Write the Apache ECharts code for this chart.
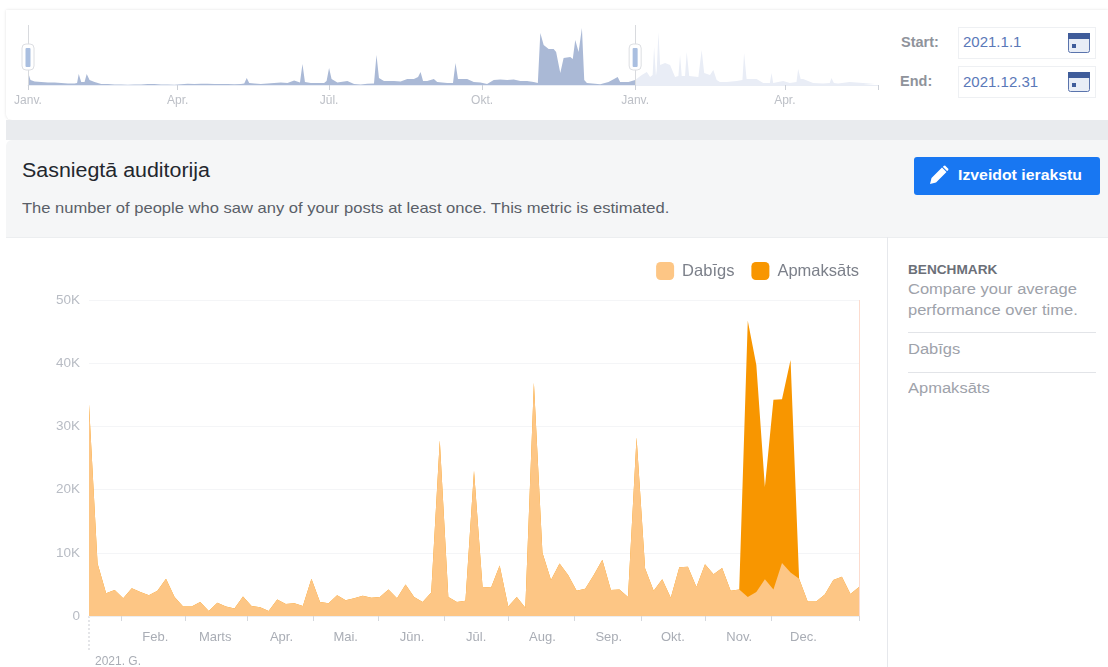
<!DOCTYPE html>
<html>
<head>
<meta charset="utf-8">
<title>Sasniegtā auditorija</title>
<script src="https://cdn.jsdelivr.net/npm/echarts@6/dist/echarts.min.js"></script>
<style>
html, body { margin: 0; padding: 0; background: #fff; }
#page { position: relative; width: 1108px; height: 667px; overflow: hidden; background: #fff;
    font-family: "Liberation Sans", Arial, sans-serif; filter: blur(0.55px); }
#page div { position: absolute; white-space: nowrap; }
#topPanel { left: 6px; top: 10px; width: 1102px; height: 110px; background: #fff; border-radius: 0 0 0 6px;
    box-shadow: 0 0 3px rgba(0,0,0,.12); }
#band { left: 6px; top: 120px; width: 1102px; height: 20px; background: #e9ebee; }
#header { left: 6px; top: 140px; width: 1102px; height: 97px; background: #f5f6f7; border-bottom: 1px solid #eceef0; border-radius: 6px 0 0 0; }
#overview { left: 0; top: 10px; width: 900px; height: 110px; }
#main { left: 0; top: 237px; width: 887px; height: 430px; }
#divider { left: 887px; top: 237px; width: 1px; height: 430px; background: #e6e8ec; }
.lbl { color: #8f939b; font-size: 14.5px; font-weight: bold; }
.box { left: 958px; width: 136px; height: 30px; border: 1px solid #eef0f3; background: #fff; }
.val { left: 963px; color: #5a78b8; font-size: 15px; }
#title { left: 22px; top: 159px; font-size: 20px; color: #23272e; transform: scaleX(1.07); transform-origin: left; }
#sub { left: 22px; top: 200px; font-size: 14.4px; color: #5a5f68; transform: scaleX(1.15); transform-origin: left; }
#btn { left: 914px; top: 157px; width: 186px; height: 38px; background: #1877f2; border-radius: 3px; }
#btnText { left: 958px; top: 167px; color: #fff; font-size: 14px; font-weight: bold; transform: scaleX(1.13); transform-origin: left; }
.side { left: 908px; color: #9ea2aa; font-size: 15.5px; transform: scaleX(1.065); transform-origin: left; }
.rule { left: 908px; width: 188px; height: 1px; background: #e2e4e8; }
</style>
</head>
<body>
<div id="page">
    <div id="topPanel"></div>
    <div id="band"></div>
    <div id="header"></div>
    <div id="overview"></div>

    <div class="lbl" style="left:901px;top:34px">Start:</div>
    <div class="box" style="top:27px"></div>
    <div class="val" style="top:33px">2021.1.1</div>
    <svg style="position:absolute;left:1068px;top:33px;width:22px;height:20px" viewBox="0 0 22 20">
        <rect x="0.5" y="0.5" width="21" height="19" rx="2" fill="#e8edf6" stroke="#5a74ad"/>
        <rect x="0" y="0" width="22" height="6" fill="#3f5c9a"/>
        <rect x="4" y="11" width="4" height="4" fill="#3f5c9a"/>
    </svg>
    <div class="lbl" style="left:900px;top:73px">End:</div>
    <div class="box" style="top:66px"></div>
    <div class="val" style="top:73px">2021.12.31</div>
    <svg style="position:absolute;left:1068px;top:72px;width:22px;height:20px" viewBox="0 0 22 20">
        <rect x="0.5" y="0.5" width="21" height="19" rx="2" fill="#e8edf6" stroke="#5a74ad"/>
        <rect x="0" y="0" width="22" height="6" fill="#3f5c9a"/>
        <rect x="4" y="11" width="4" height="4" fill="#3f5c9a"/>
    </svg>

    <div id="title">Sasniegtā auditorija</div>
    <div id="sub">The number of people who saw any of your posts at least once. This metric is estimated.</div>
    <div id="btn"></div>
    <svg style="position:absolute;left:929px;top:165px;width:20px;height:20px" viewBox="0 0 20 20">
        <path d="M1 19 L2.5 13 L13 2.5 L17.5 7 L7 17.5 Z M14.5 1 L16 0.5 L19.5 4 L19 5.5 L18 6 L14 2 Z" fill="#fff"/>
    </svg>
    <div id="btnText">Izveidot ierakstu</div>

    <div id="main"></div>
    <div id="divider"></div>

    <div class="side" style="top:262px;color:#6b6f78;font-size:12.8px;font-weight:bold">BENCHMARK</div>
    <div class="side" style="top:280px">Compare your average</div>
    <div class="side" style="top:301px">performance over time.</div>
    <div class="rule" style="top:332px"></div>
    <div class="side" style="top:340px">Dabīgs</div>
    <div class="rule" style="top:372px"></div>
    <div class="side" style="top:379px">Apmaksāts</div>
</div>

<script>
'use strict';

// main chart, one point every 4 days, day of year counted from 1 January
var mainDays = [
    0, 4, 8, 12, 16, 20, 24, 28, 32, 36, 40, 44, 48, 52, 56, 60, 64, 68, 72, 76,
    80, 84, 88, 92, 96, 100, 104, 108, 112, 116, 120, 124, 128, 132, 136, 140, 144, 148, 152, 156,
    160, 164, 168, 172, 176, 180, 184, 188, 192, 196, 200, 204, 208, 212, 216, 220, 224, 228, 232, 236,
    240, 244, 248, 252, 256, 260, 264, 268, 272, 276, 280, 284, 288, 292, 296, 300, 304, 308, 312, 316,
    320, 324, 328, 332, 336, 340, 344, 348, 352, 356, 360
];
var organicReach = [
    33500, 8300, 3600, 4100, 2800, 4400, 3800, 3300, 4000, 5900, 3000, 1500, 1500, 2200, 800, 2100, 1500, 1200, 3100, 1600,
    1400, 800, 2600, 1900, 2000, 1600, 5900, 2200, 2000, 3300, 2500, 2800, 3200, 2900, 3000, 4200, 2800, 5000, 3000, 2200,
    3700, 27800, 3000, 2200, 2400, 23000, 4600, 4500, 8000, 1500, 3000, 1300, 36900, 10000, 5700, 8300, 6500, 4000, 4300, 6500,
    8900, 4100, 4200, 3000, 28300, 7500, 4000, 5800, 2900, 7700, 7800, 4600, 8200, 6600, 7600, 4000, 4200, 3000, 3800, 5800,
    4200, 8400, 6900, 5900, 2300, 2300, 3400, 5700, 6200, 3500, 4600
];
var paidReach = [
    0, 0, 0, 0, 0, 0, 0, 0, 0, 0, 0, 0, 0, 0, 0, 0, 0, 0, 0, 0,
    0, 0, 0, 0, 0, 0, 0, 0, 0, 0, 0, 0, 0, 0, 0, 0, 0, 0, 0, 0,
    0, 0, 0, 0, 0, 0, 0, 0, 0, 0, 0, 0, 0, 0, 0, 0, 0, 0, 0, 0,
    0, 0, 0, 0, 0, 0, 0, 0, 0, 0, 0, 0, 0, 0, 0, 0, 0, 43700, 35900, 14600,
    30000, 25900, 33600, 0, 0, 0, 0, 0, 0, 0, 0
];
var monthDays = [31, 59, 90, 120, 151, 181, 212, 243, 273, 304, 334];
var monthNames = ['Feb.', 'Marts', 'Apr.', 'Mai.', 'Jūn.', 'Jūl.', 'Aug.', 'Sep.', 'Okt.', 'Nov.', 'Dec.'];
var midMonthDays = [15, 45, 74, 105, 135, 166, 196, 227, 258, 288, 319, 360];

// overview strip above the chart, heights only relative
var overviewDays = [
    0, 1.5, 4, 8, 12, 16, 20, 24, 28, 29.5, 30.5, 32, 34, 35.3, 37, 40, 44, 48, 52, 56,
    60, 64, 68, 72, 76, 80, 84, 88, 92, 96, 100, 104, 108, 112, 116, 120, 124, 128, 130, 131.5,
    133, 136, 140, 144, 148, 152, 156, 160, 163.5, 165, 166.5, 170, 174, 178, 179.5, 181, 182.5, 186, 192, 196,
    200, 204, 208, 209.5, 211, 214, 220, 224, 228, 232, 234.5, 236, 237.5, 240, 244, 246, 252, 255.5, 257, 258.5,
    264, 268, 272, 276, 280, 284, 288, 292, 296, 300, 304,
    306.5, 308, 310, 313, 316, 317.5, 320, 322, 326, 327.5, 329, 331, 333, 334.4, 336, 344, 349, 354.5, 356, 361, 365
];
var overviewReach = [
    13, 5, 3.5, 3, 2.5, 2.5, 2, 1.5, 1.5, 2, 11, 3, 3, 11, 5, 3, 1, 1, 0.6, 0.6,
    0.3, 0.6, 0.5, 1, 1, 0.5, 0.5, 0.3, 0.8, 1.2, 1, 1.2, 1.2, 1, 1, 1, 0.8, 1, 1.5, 7,
    2, 1.5, 1, 1.5, 2, 2.5, 2, 4.5, 2.5, 21, 3, 2, 2, 2, 4, 17, 6, 2.5, 4, 1,
    0.6, 1.2, 1.5, 30, 7, 4, 4, 3.5, 6, 6, 8, 13, 4, 4, 6, 3, 2, 2, 22, 6,
    6, 3, 2.5, 1, 5, 5.5, 5, 5.5, 4, 4, 3,
    2, 52, 40, 36, 36, 33, 12, 27, 28, 26, 45, 33, 57, 5, 2, 0.7, 3, 8, 3, 3, 5
];
var futureDays = [
    365, 369, 372, 374, 375.5, 376.4, 377.5, 378, 379, 380, 381, 383, 386, 389, 391, 392, 393, 395, 396, 397.5,
    403, 405, 406.5, 410, 412, 414, 416, 420, 426, 429.5, 430.5, 432, 438, 442, 446, 447, 448, 454, 458, 462,
    463, 464.5, 466, 472, 478, 482, 483, 484.5, 487, 494, 502, 509
];
var futureReach = [
    5, 10, 13, 8, 10, 38, 9, 15, 53, 20, 18, 22, 20, 8, 9, 30, 9, 9, 33, 9,
    8, 35, 12, 10, 15, 5, 3, 3, 4, 5, 32, 6, 6, 2, 2, 12, 2, 4, 2, 3,
    16, 6, 6, 2, 1.5, 2, 7, 2, 1.5, 3, 2, 1
];
var overviewTickDays = [0, 90, 181, 273, 365, 455, 511];
var overviewLabelDays = [0, 90, 181, 273, 365, 455];
var overviewLabels = ['Janv.', 'Apr.', 'Jūl.', 'Okt.', 'Janv.', 'Apr.'];

function zip(xs, ys) {
    return xs.map(function(x, i) { return [x, ys[i]]; });
}

// paid sits on top of organic; drawn first so the organic area covers its lower part
var paidTop = organicReach.map(function(v, i) { return v + paidReach[i]; });

var mainChart = echarts.init(document.getElementById('main'));
mainChart.setOption({
    animation: false,
    textStyle: { fontFamily: '"Liberation Sans", Arial, sans-serif' },
    grid: { left: 89, right: 28, top: 63, bottom: 51 },
    legend: {
        right: 23,
        top: 20,
        itemWidth: 18,
        itemHeight: 18,
        itemGap: 17,
        icon: 'roundRect',
        textStyle: { color: '#7c808a', fontSize: 16.5, padding: [0, 0, 0, 3] },
        data: ['Dabīgs', 'Apmaksāts']
    },
    xAxis: {
        type: 'value',
        min: 0,
        max: 360,
        splitLine: { show: false },
        axisLine: { show: true, lineStyle: { color: '#eceef1' } },
        axisTick: { show: true, length: 5, lineStyle: { color: '#d5d8dd' }, customValues: midMonthDays },
        axisLabel: {
            color: '#a9adb5',
            fontSize: 13,
            margin: 15,
            customValues: monthDays,
            formatter: function(v) { return monthNames[monthDays.indexOf(v)]; }
        }
    },
    yAxis: {
        type: 'value',
        min: 0,
        max: 50000,
        interval: 10000,
        axisLine: { show: false },
        axisTick: { show: false },
        splitLine: { lineStyle: { color: '#f4f5f7' } },
        axisLabel: {
            color: '#b8bcc4',
            fontSize: 13.5,
            margin: 9,
            formatter: function(v) { return v === 0 ? '0' : (v / 1000) + 'K'; }
        }
    },
    series: [
        {
            name: 'Apmaksāts',
            type: 'line',
            showSymbol: false,
            color: '#f89600',
            lineStyle: { width: 0 },
            areaStyle: { color: '#f89600', opacity: 1 },
            markLine: {
                silent: true,
                symbol: 'none',
                label: { show: false },
                lineStyle: { color: '#fcdccf', type: 'solid', width: 1 },
                data: [{ xAxis: 360 }]
            },
            data: zip(mainDays, paidTop)
        },
        {
            name: 'Dabīgs',
            type: 'line',
            showSymbol: false,
            color: '#fdc685',
            lineStyle: { width: 0 },
            areaStyle: { color: '#fdc685', opacity: 1 },
            data: zip(mainDays, organicReach)
        }
    ]
});

var startX = mainChart.convertToPixel({ xAxisIndex: 0 }, 0);
var zeroY = mainChart.convertToPixel({ yAxisIndex: 0 }, 0);
mainChart.setOption({
    graphic: [
        {
            type: 'line',
            shape: { x1: startX, y1: zeroY, x2: startX, y2: zeroY + 34 },
            style: { stroke: '#c9ccd2', lineDash: [2, 2], lineWidth: 1 }
        },
        {
            type: 'text',
            x: startX + 6,
            y: zeroY + 40,
            style: { text: '2021. G.', fill: '#a9adb5', fontSize: 12, fontFamily: '"Liberation Sans", Arial, sans-serif' }
        }
    ]
});

var overviewChart = echarts.init(document.getElementById('overview'));
overviewChart.setOption({
    animation: false,
    textStyle: { fontFamily: '"Liberation Sans", Arial, sans-serif' },
    grid: { left: 28, right: 22, top: 15, bottom: 35 },
    xAxis: {
        type: 'value',
        min: 0,
        max: 511,
        splitLine: { show: false },
        axisLine: { show: true, lineStyle: { color: '#e9edf5' } },
        axisTick: { show: true, length: 5, lineStyle: { color: '#ccd0d7' }, customValues: overviewTickDays },
        axisLabel: {
            color: '#bdc0c7',
            fontSize: 12,
            margin: 10,
            customValues: overviewLabelDays,
            formatter: function(v) { return overviewLabels[overviewLabelDays.indexOf(v)]; }
        }
    },
    yAxis: { type: 'value', min: 0, max: 60, show: false },
    series: [
        {
            type: 'line',
            showSymbol: false,
            lineStyle: { width: 0 },
            areaStyle: { color: '#aab9d6', opacity: 1 },
            markLine: {
                silent: true,
                symbol: 'none',
                label: { show: false },
                lineStyle: { color: '#d8dade', type: 'solid', width: 1 },
                data: [{ xAxis: 0 }, { xAxis: 365 }]
            },
            data: zip(overviewDays, overviewReach)
        },
        {
            type: 'line',
            showSymbol: false,
            lineStyle: { width: 0 },
            areaStyle: { color: '#e9edf6', opacity: 1 },
            data: zip(futureDays, futureReach)
        }
    ]
});

function handle(day) {
    var x = overviewChart.convertToPixel({ xAxisIndex: 0 }, day);
    return [
        {
            type: 'rect',
            shape: { x: x - 6, y: 34, width: 12, height: 26, r: 4 },
            style: { fill: '#fff', stroke: '#dcdee2', lineWidth: 1 },
            z: 20
        },
        {
            type: 'rect',
            shape: { x: x - 2.5, y: 38, width: 5, height: 19, r: 1 },
            style: { fill: '#aabfe0' },
            z: 21
        }
    ];
}
overviewChart.setOption({ graphic: handle(0).concat(handle(365)) });
</script>
</body>
</html>
